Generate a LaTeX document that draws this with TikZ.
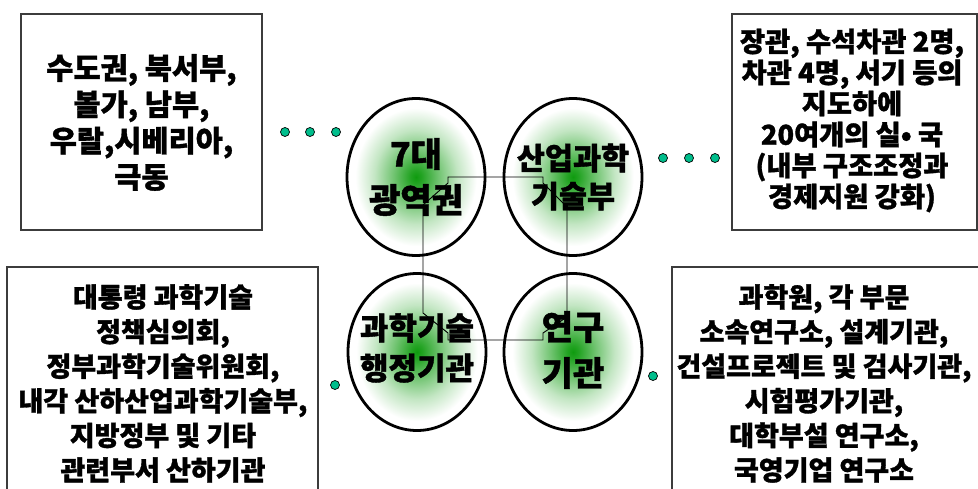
\documentclass[tikz,border=0pt]{standalone}
\usepackage{fontspec}
\setmainfont{Noto Sans CJK KR}[BoldFeatures={FakeBold=1.2}]
\usetikzlibrary{shapes.geometric}
\definecolor{gcen}{RGB}{15,155,15}
\definecolor{dotc}{RGB}{0,190,140}
\definecolor{boxc}{RGB}{60,60,60}
\pgfdeclareradialshading{gball}{\pgfpoint{0bp}{0bp}}{color(0bp)=(gcen); color(2bp)=(gcen!92!white); color(8bp)=(gcen!60!white); color(15bp)=(gcen!25!white); color(22bp)=(white); color(50bp)=(white)}
\begin{document}
\begin{tikzpicture}[x=1pt,y=-1pt,
  ball/.style={ellipse, draw=black, line width=2.8pt, shading=gball, minimum width=138pt, minimum height=157pt, inner sep=0pt},
  boxframe/.style={draw=boxc, line width=1.1pt, inner sep=0pt},
  txt/.style={align=center, inner sep=0pt},
  dotn/.style={circle, fill=dotc, draw=black, line width=0.7pt, minimum size=9pt, inner sep=0pt},
  link/.style={draw=black, line width=0.9pt}
]
\useasboundingbox (0,0) rectangle (978,489);
% boxes
\node[boxframe, minimum width=241pt, minimum height=216pt] (tlbox) at (141.5,122) {};
\node[boxframe, minimum width=245pt, minimum height=216pt] (trbox) at (854.5,122) {};
\node[boxframe, minimum width=311pt, minimum height=233pt] (blbox) at (162.5,383.5) {};
\node[boxframe, minimum width=330pt, minimum height=233pt] (brbox) at (837,383.5) {};
% box texts
\node[txt, font=\bfseries\fontsize{29.5}{36.3}\selectfont] (tltxt) at (141.5,122.5) {수도권, 북서부,\\볼가, 남부,\\우랄,시베리아,\\극동};
\node[txt, font=\bfseries\fontsize{27.3}{31}\selectfont] (trtxt) at (852,120.5) {장관, 수석차관 2명,\\차관 4명, 서기 등의\\지도하에\\20여개의 실• 국\\(내부 구조조정과\\경제지원 강화)};
\node[txt, font=\bfseries\fontsize{27}{34.6}\selectfont] (bltxt) at (163,383.5) {대통령 과학기술\\정책심의회,\\정부과학기술위원회,\\내각 산하산업과학기술부,\\지방정부 및 기타\\관련부서 산하기관};
\node[txt, font=\bfseries\fontsize{27}{34.6}\selectfont] (brtxt) at (824,383.5) {과학원, 각 부문\\소속연구소, 설계기관,\\건설프로젝트 및 검사기관,\\시험평가기관,\\대학부설 연구소,\\국영기업 연구소};
% ellipses
\node[ball] (tl) at (416,177) {};
\node[ball] (tr) at (573,177) {};
\node[ball] (bl) at (417,352) {};
\node[ball] (br) at (573,352) {};
% connector loop
\coordinate (c1) at ([shift={(32,0)}]tl.center);
\coordinate (c2) at ([shift={(-30,0)}]tr.center);
\draw[link] (c1) -- (c2) -- ++(0,6) -- (567,207) -- (567,317) -- (543,333) -- (543,340) -- (448,340) -- (448,333) -- (423,313) -- (423,205) -- (448,183) -- cycle;
% ellipse texts
\node[txt, font=\bfseries\fontsize{34}{46}\selectfont] (tlt) at (tl.center) {7대\\광역권};
\node[txt, font=\bfseries\fontsize{30.5}{38}\selectfont] (trt) at (tr.center) {산업과학\\기술부};
\node[txt, font=\bfseries\fontsize{31}{40}\selectfont] (blt) at ([yshift=4pt]bl.center) {과학기술\\행정기관};
\node[txt, font=\bfseries\fontsize{34}{46}\selectfont] (brt) at ([yshift=2pt]br.center) {연구\\기관};
% dots
\node[dotn] (d1) at (285,132) {};
\node[dotn] (d2) at (310,132) {};
\node[dotn] (d3) at (336,132) {};
\node[dotn] (d4) at (663,158) {};
\node[dotn] (d5) at (689,158) {};
\node[dotn] (d6) at (715,158) {};
\node[dotn] (d7) at (335,385) {};
\node[dotn] (d8) at (653,376) {};
\end{tikzpicture}
\end{document}
